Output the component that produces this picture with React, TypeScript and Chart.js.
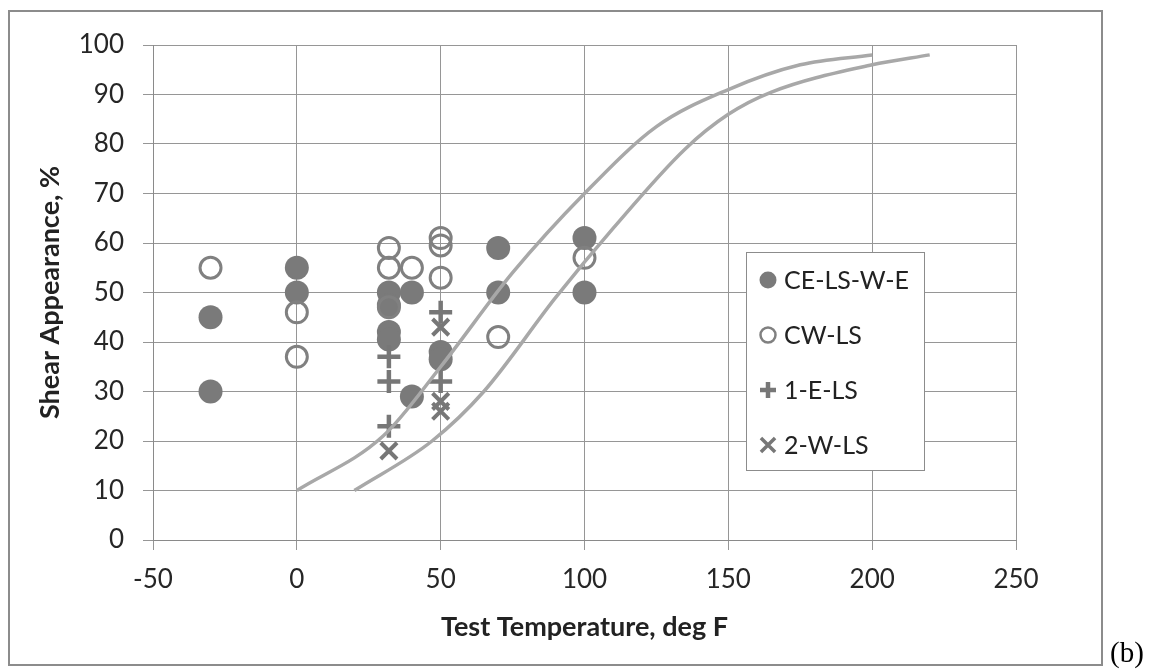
import React, { useEffect, useRef } from "react";
import { Chart, registerables } from "chart.js";

Chart.register(...registerables);

// ---- data ----
const ceX = [-30, -30, 0, 0, 32, 32, 32, 32, 40, 40, 50, 50, 70, 70, 100, 100];
const ceY = [45, 30, 55, 50, 50, 47.5, 42, 40.5, 50, 29, 38, 36.5, 59, 50, 61, 50];

const cwX = [-30, 0, 0, 32, 32, 32, 40, 50, 50, 50, 70, 100];
const cwY = [55, 46, 37, 59, 55, 47, 55, 61, 59.5, 53, 41, 57];

const e1X = [32, 32, 32, 50, 50];
const e1Y = [37, 32, 23, 46, 32];

const w2X = [32, 50, 50, 50];
const w2Y = [18, 43, 28, 26];

const curve1X = [0, 30, 50, 75, 100, 125, 150, 175, 200];
const curve1Y = [10, 21, 35, 54, 70, 83.5, 91, 96, 98];

const curve2X = [20, 47, 65, 90, 110, 135, 150, 165, 200, 220];
const curve2Y = [10, 20, 30, 49, 63, 79, 86, 90.5, 96, 98];

const xTicks = [-50, 0, 50, 100, 150, 200, 250];
const yTicks = [0, 10, 20, 30, 40, 50, 60, 70, 80, 90, 100];

const seriesNames = ["CE-LS-W-E", "CW-LS", "1-E-LS", "2-W-LS"];

const xTitle = "Test Temperature, deg F";
const yTitle = "Shear Appearance, %";

const toPts = (xs: number[], ys: number[]) => xs.map((x, i) => ({ x, y: ys[i] }));

const FONT = "Lato, 'Open Sans', sans-serif";
const GREY = "#7a7a7a";

function drawMarker(ctx: CanvasRenderingContext2D, style: string, x: number, y: number, r: number, fill: string, stroke: string, lw: number) {
  ctx.save();
  ctx.lineWidth = lw;
  ctx.strokeStyle = stroke;
  ctx.fillStyle = fill;
  ctx.beginPath();
  if (style === "circle") {
    ctx.arc(x, y, r, 0, Math.PI * 2);
    if (fill !== "transparent") ctx.fill();
    if (lw > 0) ctx.stroke();
  } else if (style === "cross") {
    ctx.moveTo(x - r, y);
    ctx.lineTo(x + r, y);
    ctx.moveTo(x, y - r);
    ctx.lineTo(x, y + r);
    ctx.stroke();
  } else {
    const d = r * Math.SQRT1_2;
    ctx.moveTo(x - d, y - d);
    ctx.lineTo(x + d, y + d);
    ctx.moveTo(x + d, y - d);
    ctx.lineTo(x - d, y + d);
    ctx.stroke();
  }
  ctx.restore();
}

const boxLegend = {
  id: "boxLegend",
  afterDraw(chart: any) {
    const ctx: CanvasRenderingContext2D = chart.ctx;
    const bx = 746, by = 252, bw = 178, bh = 218;
    ctx.save();
    ctx.fillStyle = "#ffffff";
    ctx.fillRect(bx, by, bw, bh);
    ctx.strokeStyle = "#8c8c8c";
    ctx.lineWidth = 1;
    ctx.strokeRect(bx + 0.5, by + 0.5, bw, bh);
    ctx.font = `25px ${FONT}`;
    ctx.textBaseline = "middle";
    ctx.textAlign = "left";
    chart.data.datasets.forEach((ds: any) => {
      if (!ds.inLegend) return;
      const y = by + 28 + ds.legendIndex * 55;
      drawMarker(ctx, ds.pointStyle, 768, y, ds.legendRadius, ds.backgroundColor, ds.borderColor, ds.legendLw);
      ctx.fillStyle = "#222222";
      ctx.fillText(ds.label, 784, y + 1);
    });
    ctx.restore();
  },
};

export default function App() {
  const ref = useRef<HTMLCanvasElement | null>(null);

  useEffect(() => {
    if (!ref.current) return;
    const chart = new Chart(ref.current, {
      type: "scatter",
      data: {
        datasets: [
          {
            label: seriesNames[0],
            data: toPts(ceX, ceY),
            pointStyle: "circle",
            pointRadius: 12,
            pointHoverRadius: 12,
            backgroundColor: GREY,
            borderColor: GREY,
            borderWidth: 0,
            order: 5,
            inLegend: true,
            legendIndex: 0,
            legendRadius: 8.5,
            legendLw: 0,
          } as any,
          {
            label: seriesNames[1],
            data: toPts(cwX, cwY),
            pointStyle: "circle",
            pointRadius: 10.5,
            pointHoverRadius: 10.5,
            backgroundColor: "transparent",
            borderColor: "#808080",
            borderWidth: 3,
            order: 4,
            inLegend: true,
            legendIndex: 1,
            legendRadius: 7.5,
            legendLw: 2.5,
          } as any,
          {
            label: seriesNames[2],
            data: toPts(e1X, e1Y),
            pointStyle: "cross",
            pointRadius: 11.5,
            pointHoverRadius: 11.5,
            backgroundColor: GREY,
            borderColor: "#777777",
            borderWidth: 4.5,
            order: 3,
            inLegend: true,
            legendIndex: 2,
            legendRadius: 8,
            legendLw: 4.5,
          } as any,
          {
            label: seriesNames[3],
            data: toPts(w2X, w2Y),
            pointStyle: "crossRot",
            pointRadius: 11.5,
            pointHoverRadius: 11.5,
            backgroundColor: GREY,
            borderColor: "#777777",
            borderWidth: 4,
            order: 2,
            inLegend: true,
            legendIndex: 3,
            legendRadius: 10,
            legendLw: 3.5,
          } as any,
          {
            label: "curve1",
            data: toPts(curve1X, curve1Y),
            showLine: true,
            pointRadius: 0,
            borderColor: "#a8a8a8",
            backgroundColor: "#a8a8a8",
            borderWidth: 3.5,
            cubicInterpolationMode: "monotone",
            order: 1,
          } as any,
          {
            label: "curve2",
            data: toPts(curve2X, curve2Y),
            showLine: true,
            pointRadius: 0,
            borderColor: "#a8a8a8",
            backgroundColor: "#a8a8a8",
            borderWidth: 3.5,
            cubicInterpolationMode: "monotone",
            order: 1,
          } as any,
        ],
      },
      options: {
        animation: false,
        responsive: false,
        maintainAspectRatio: false,
        events: [],
        layout: { padding: { left: 0, top: 45, right: 138, bottom: 0 } },
        plugins: {
          legend: { display: false },
          tooltip: { enabled: false },
          title: { display: false },
        },
        scales: {
          x: {
            type: "linear",
            min: -50,
            max: 250,
            afterBuildTicks: (s: any) => {
              s.ticks = xTicks.map((v) => ({ value: v }));
            },
            afterFit: (s: any) => {
              s.height = 132;
            },
            ticks: {
              font: { family: FONT, size: 26 },
              color: "#262626",
              padding: 14,
              maxRotation: 0,
            },
            grid: { color: "#969696", lineWidth: 1, tickLength: 10, drawTicks: true },
            border: { display: true, color: "#8a8a8a", width: 1 },
            title: {
              display: true,
              text: xTitle,
              font: { family: FONT, size: 27, weight: "bold" },
              color: "#222222",
              padding: { top: 0, bottom: 29 },
            },
          },
          y: {
            type: "linear",
            min: 0,
            max: 100,
            afterBuildTicks: (s: any) => {
              s.ticks = yTicks.map((v) => ({ value: v }));
            },
            afterFit: (s: any) => {
              s.width = 153;
            },
            ticks: {
              font: { family: FONT, size: 26 },
              color: "#262626",
              padding: 19,
            },
            grid: { color: "#969696", lineWidth: 1, tickLength: 10, drawTicks: true },
            border: { display: true, color: "#8a8a8a", width: 1 },
            title: {
              display: true,
              text: yTitle,
              font: { family: FONT, size: 27, weight: "bold" },
              color: "#222222",
              padding: { top: 34, bottom: 0 },
            },
          },
        },
      } as any,
      plugins: [boxLegend],
    });
    return () => chart.destroy();
  }, []);

  return (
    <div style={{ position: "fixed", left: 0, top: 0, width: 1154, height: 672, background: "#ffffff" }}>
      <div
        style={{
          position: "absolute",
          left: 8,
          top: 10,
          width: 1095,
          height: 656,
          boxSizing: "border-box",
          border: "2px solid #8c8c8c",
        }}
      />
      <canvas ref={ref} width={1154} height={672} style={{ position: "absolute", left: 0, top: 0, width: 1154, height: 672 }} />
      <div
        style={{
          position: "absolute",
          left: 1110,
          top: 634,
          font: "29px 'Liberation Serif', 'Times New Roman', serif",
          color: "#000",
          lineHeight: "36px",
        }}
      >
        (b)
      </div>
    </div>
  );
}
